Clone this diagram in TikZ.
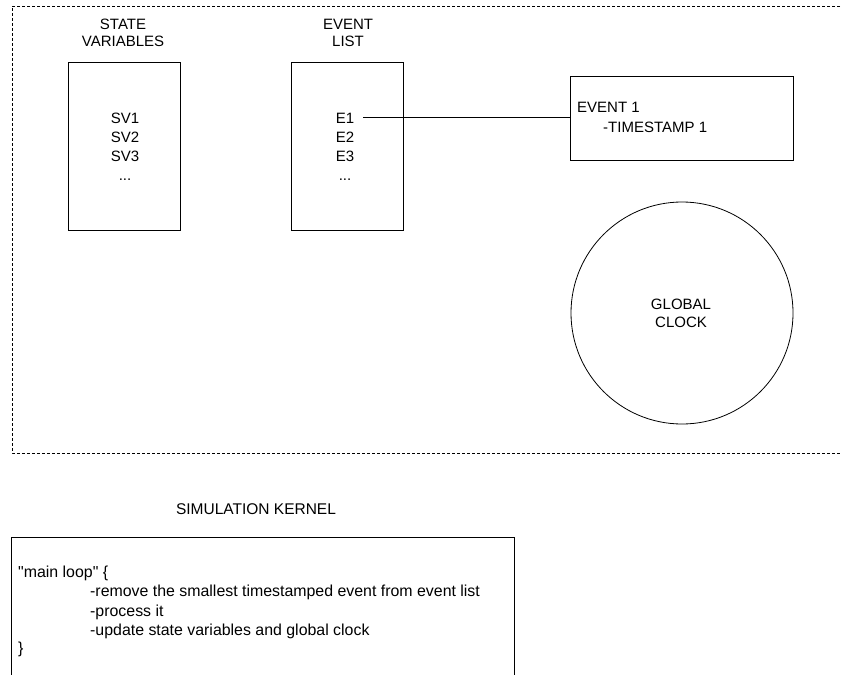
\documentclass[tikz,border=0pt]{standalone}
\usepackage{fontspec}
\setmainfont{Liberation Sans}[Ligatures=TeXOff]
\begin{document}
\begin{tikzpicture}[x=1pt,y=-1pt,
  lbl/.style={inner sep=0pt,anchor=base,font=\fontsize{15}{18}\selectfont},
  lblw/.style={inner sep=0pt,anchor=base west,font=\fontsize{15}{18}\selectfont},
  klbl/.style={inner sep=0pt,anchor=base west,font=\fontsize{15.9}{19}\selectfont},
  box/.style={draw,line width=0.9pt,rectangle,inner sep=0pt},
  frame/.style={line width=0.8pt,dash pattern=on 3pt off 2pt}]
\useasboundingbox (0,0) rectangle (842,674);
% dashed frame
\draw[frame] (850,6) -- (12,6) -- (12,453) -- (850,453);
% state variables
\node[lbl] (st1) at (123,30) {STATE};
\node[lbl] (st2) at (123,47) {VARIABLES};
\node[box,minimum width=112,minimum height=168] (sv) at (124,146) {};
\node[lbl] (sv1) at (125,123) {SV1};
\node[lbl] (sv2) at (125,142) {SV2};
\node[lbl] (sv3) at (125,161) {SV3};
\node[lbl] (sv4) at (125,180) {...};
% event list
\node[lbl] (el1) at (348,30) {EVENT};
\node[lbl] (el2) at (348,47) {LIST};
\node[box,minimum width=112,minimum height=168] (ev) at (347,146) {};
\node[lbl] (e1) at (345,123) {E1};
\node[lbl] (e2) at (345,142) {E2};
\node[lbl] (e3) at (345,161) {E3};
\node[lbl] (e4) at (345,180) {...};
% event 1 box
\node[box,minimum width=223,minimum height=84] (evb) at (681.5,118) {};
\node[lblw] (evt1) at (577,113) {EVENT 1};
\node[lblw] (ts1) at (603,132) {-TIMESTAMP 1};
\coordinate (e1s) at (363,117);
\draw[line width=0.9pt] (e1s) -- (evb.west |- e1s);
% global clock
\node[draw,circle,line width=0.8pt,minimum size=222,inner sep=0pt] (clk) at (682,313) {};
\node[lbl] (g1) at (681,309) {GLOBAL};
\node[lbl] (g2) at (681,327) {CLOCK};
% simulation kernel
\node[inner sep=0pt,anchor=base,font=\fontsize{15.5}{19}\selectfont] (sk) at (256,514) {SIMULATION KERNEL};
\draw[line width=0.9pt] (11,690) -- (11,537) -- (514,537) -- (514,690);
\node[klbl] (k1) at (18,577) {"main loop" \{};
\node[klbl] (k2) at (90,596.5) {-remove the smallest timestamped event from event list};
\node[klbl] (k3) at (90,616) {-process it};
\node[klbl] (k4) at (90,635.5) {-update state variables and global clock};
\node[klbl] (k5) at (18,653) {\}};
\end{tikzpicture}
\end{document}
